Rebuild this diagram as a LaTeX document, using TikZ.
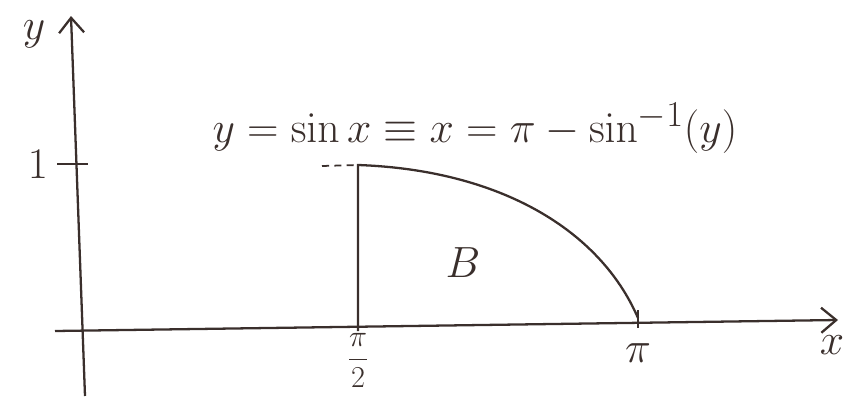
\documentclass[tikz,border=0pt]{standalone}
\usepackage{amsmath,amssymb}
\usetikzlibrary{arrows.meta,positioning}
\definecolor{pencil}{HTML}{3A2F2C}
\tikzset{
  axis/.style={draw=pencil,line width=1.3pt,-{Straight Barb[length=3mm,width=5mm]}},
  curve/.style={draw=pencil,line width=1.3pt},
  tickmark/.style={draw=pencil,line width=1.3pt},
  guide/.style={draw=pencil,line width=1pt,dashed,dash pattern=on 4pt off 3pt},
  lbl/.style={text=pencil,inner sep=1pt,font=\Huge},
}

\begin{document}
\begin{tikzpicture}[x=0.02cm,y=-0.02cm]
      \useasboundingbox (0,0) rectangle (850,399);
      \coordinate (ybot) at (85,396);
      \coordinate (ytop) at (71,16);
      \coordinate (xleft) at (55,331);
      \coordinate (xright) at (838,320);
      \coordinate (top) at (358,165);
      \coordinate (foot) at (358,331);
      \coordinate (end) at (638,318);
      \draw[axis] (ybot)--(ytop);
      \draw[axis] (xleft)--(xright);
      \node[lbl] (ylab) at (34,34) {$y$};
      \node[lbl] (xlab) at (832,345) {$x$};
      \coordinate (oneL) at (57,164);
      \coordinate (oneR) at (88,164);
      \draw[tickmark] (oneL)--(oneR);
      \node[lbl,left=4pt of oneL] (one) {$1$};
      \draw[guide] (322,166)--(top);
      \draw[curve] (foot)--(top) .. controls (500,170) and (600,230) .. (end);
      \coordinate (piT) at (638,310);
      \coordinate (piB) at (638,328);
      \draw[tickmark] (piT)--(piB);
      \node[lbl,font=\LARGE,inner sep=0pt,below=1pt of foot] (halfpi) {$\dfrac{\pi}{2}$};
      \node[lbl,below=8pt of piB] (pi) {$\pi$};
      \node[lbl] (B) at (463,263) {$B$};
      \node[lbl] (eq) at (475,128) {$y=\sin x\equiv x=\pi-\sin^{-1}(y)$};
    \end{tikzpicture}
\end{document}
